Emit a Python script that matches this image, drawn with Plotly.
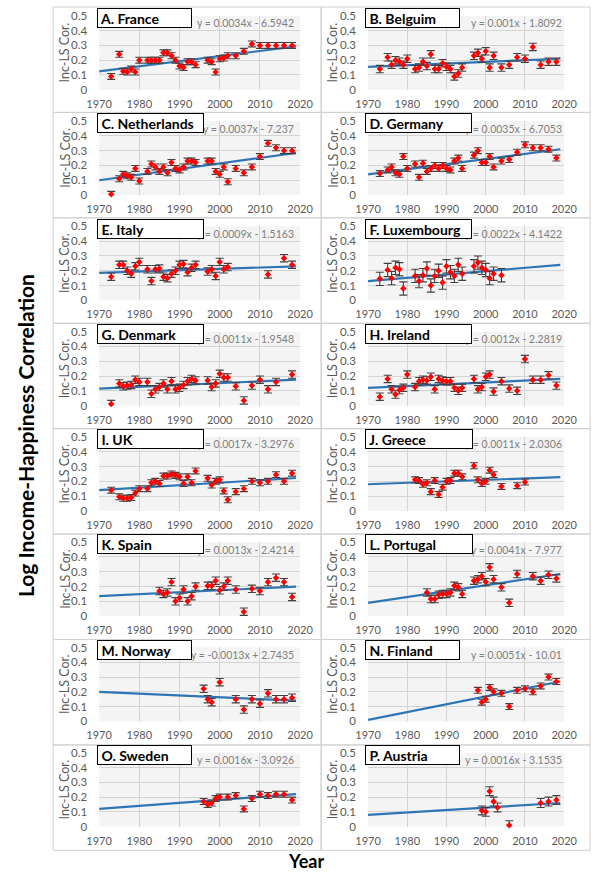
import plotly.graph_objects as go

# ---------------- data ----------------
titles = ["A. France", "B. Belguim", "C. Netherlands", "D. Germany", "E. Italy", "F. Luxembourg",
          "G. Denmark", "H. Ireland", "I. UK", "J. Greece", "K. Spain", "L. Portugal",
          "M. Norway", "N. Finland", "O. Sweden", "P. Austria"]
equations = ["y = 0.0034x - 6.5942", "y = 0.001x - 1.8092", "y = 0.0037x - 7.237", "y = 0.0035x - 6.7053",
             "y = 0.0009x - 1.5163", "y = 0.0022x - 4.1422", "y = 0.0011x - 1.9548", "y = 0.0012x - 2.2819",
             "y = 0.0017x - 3.2976", "y = 0.0011x - 2.0306", "y = 0.0013x - 2.4214", "y = 0.0041x - 7.977",
             "y = -0.0013x + 2.7435", "y = 0.0051x - 10.01", "y = 0.0016x - 3.0926", "y = 0.0016x - 3.1535"]

years_A = [1973, 1975, 1976, 1977, 1978, 1979, 1980, 1982, 1983, 1984, 1985, 1986, 1987, 1988, 1989, 1990, 1991,
           1992, 1993, 1994, 1997, 1998, 1999, 2000, 2001, 2002, 2004, 2006, 2008, 2010, 2012, 2014, 2016, 2018]
vals_A = [0.09, 0.24, 0.125, 0.12, 0.14, 0.12, 0.20, 0.20, 0.20, 0.20, 0.20, 0.25, 0.25, 0.23, 0.20, 0.16, 0.15,
          0.19, 0.19, 0.17, 0.20, 0.19, 0.12, 0.21, 0.215, 0.23, 0.23, 0.26, 0.31, 0.30, 0.30, 0.30, 0.30, 0.30]

years_B = [1973, 1975, 1976, 1977, 1978, 1979, 1980, 1982, 1983, 1984, 1985, 1986, 1987, 1988, 1989, 1990, 1991,
           1992, 1993, 1994, 1997, 1998, 1999, 2000, 2001, 2002, 2004, 2006, 2008, 2010, 2012, 2014, 2016, 2018]
vals_B = [0.14, 0.22, 0.17, 0.20, 0.19, 0.17, 0.21, 0.14, 0.15, 0.19, 0.16, 0.24, 0.14, 0.14, 0.18, 0.155, 0.14,
          0.09, 0.11, 0.15, 0.23, 0.25, 0.21, 0.26, 0.15, 0.23, 0.15, 0.17, 0.22, 0.21, 0.29, 0.17, 0.19, 0.19]

years_C = [1973, 1975, 1976, 1977, 1978, 1979, 1980, 1982, 1983, 1984, 1985, 1986, 1987, 1988, 1989, 1990, 1991,
           1992, 1993, 1994, 1997, 1998, 1999, 2000, 2001, 2002, 2004, 2006, 2008, 2010, 2012, 2014, 2016, 2018]
vals_C = [0.005, 0.11, 0.14, 0.13, 0.12, 0.18, 0.095, 0.16, 0.21, 0.19, 0.16, 0.19, 0.15, 0.22, 0.18, 0.17, 0.19,
          0.23, 0.23, 0.22, 0.23, 0.23, 0.16, 0.14, 0.19, 0.09, 0.18, 0.15, 0.19, 0.26, 0.35, 0.32, 0.30, 0.30]

years_D = [1973, 1975, 1976, 1977, 1978, 1979, 1980, 1982, 1983, 1984, 1985, 1986, 1987, 1988, 1989, 1990, 1991,
           1992, 1993, 1994, 1997, 1998, 1999, 2000, 2001, 2002, 2004, 2006, 2008, 2010, 2012, 2014, 2016, 2018]
vals_D = [0.145, 0.17, 0.19, 0.15, 0.14, 0.26, 0.18, 0.21, 0.12, 0.215, 0.16, 0.18, 0.20, 0.18, 0.20, 0.18, 0.17,
          0.23, 0.25, 0.18, 0.27, 0.30, 0.22, 0.22, 0.26, 0.19, 0.23, 0.24, 0.29, 0.34, 0.32, 0.32, 0.31, 0.25]

years_E = [1973, 1975, 1976, 1977, 1978, 1979, 1980, 1982, 1983, 1984, 1985, 1986, 1987, 1988, 1989, 1990, 1991,
           1992, 1993, 1994, 1997, 1998, 1999, 2000, 2001, 2002, 2012, 2016, 2018]
vals_E = [0.16, 0.24, 0.24, 0.20, 0.18, 0.23, 0.26, 0.21, 0.13, 0.21, 0.215, 0.16, 0.15, 0.18, 0.20, 0.24, 0.245,
          0.19, 0.22, 0.24, 0.195, 0.21, 0.165, 0.26, 0.21, 0.225, 0.175, 0.285, 0.24]

years_F = [1973, 1975, 1976, 1977, 1978, 1979, 1982, 1983, 1984, 1985, 1986, 1987, 1988, 1989, 1990, 1991, 1992,
           1993, 1994, 1997, 1998, 1999, 2000, 2001, 2002, 2004]
vals_F = [0.145, 0.205, 0.15, 0.22, 0.21, 0.08, 0.165, 0.13, 0.17, 0.215, 0.10, 0.165, 0.20, 0.12, 0.23, 0.19,
          0.165, 0.24, 0.18, 0.23, 0.255, 0.22, 0.205, 0.15, 0.18, 0.17]

years_G = [1973, 1975, 1976, 1977, 1978, 1979, 1980, 1982, 1983, 1984, 1985, 1986, 1987, 1988, 1989, 1990, 1991,
           1992, 1993, 1994, 1997, 1998, 1999, 2000, 2001, 2002, 2004, 2006, 2008, 2010, 2012, 2014, 2018]
vals_G = [0.01, 0.15, 0.13, 0.135, 0.14, 0.175, 0.16, 0.16, 0.08, 0.11, 0.125, 0.15, 0.11, 0.165, 0.11, 0.12, 0.14,
          0.165, 0.18, 0.17, 0.17, 0.125, 0.15, 0.215, 0.19, 0.19, 0.13, 0.035, 0.135, 0.175, 0.11, 0.16, 0.21]

years_H = [1973, 1975, 1976, 1977, 1978, 1979, 1980, 1982, 1983, 1984, 1985, 1986, 1987, 1988, 1989, 1990, 1991,
           1992, 1993, 1994, 1997, 1998, 1999, 2000, 2001, 2002, 2004, 2006, 2008, 2010, 2012, 2014, 2016, 2018]
vals_H = [0.06, 0.18, 0.11, 0.075, 0.105, 0.12, 0.21, 0.125, 0.165, 0.175, 0.17, 0.195, 0.11, 0.18, 0.17, 0.165,
          0.165, 0.12, 0.10, 0.12, 0.18, 0.11, 0.125, 0.195, 0.21, 0.095, 0.165, 0.115, 0.10, 0.315, 0.175, 0.175,
          0.205, 0.135]

years_I = [1973, 1975, 1976, 1977, 1978, 1979, 1980, 1982, 1983, 1984, 1985, 1986, 1987, 1988, 1989, 1990, 1991,
           1992, 1993, 1994, 1997, 1998, 1999, 2000, 2001, 2002, 2004, 2006, 2008, 2010, 2012, 2014, 2016, 2018]
vals_I = [0.14, 0.095, 0.085, 0.085, 0.09, 0.12, 0.15, 0.15, 0.19, 0.20, 0.185, 0.235, 0.235, 0.25, 0.24, 0.23,
          0.185, 0.23, 0.19, 0.27, 0.22, 0.175, 0.20, 0.21, 0.135, 0.075, 0.13, 0.15, 0.20, 0.19, 0.20, 0.245,
          0.20, 0.255]

years_J = [1982, 1983, 1984, 1985, 1986, 1987, 1988, 1989, 1990, 1991, 1992, 1993, 1994, 1997, 1998, 1999, 2000,
           2001, 2002, 2004, 2008, 2010]
vals_J = [0.21, 0.205, 0.18, 0.19, 0.13, 0.205, 0.11, 0.16, 0.20, 0.205, 0.255, 0.255, 0.23, 0.305, 0.21, 0.185,
          0.20, 0.275, 0.245, 0.165, 0.17, 0.195]

years_K = [1985, 1986, 1987, 1988, 1989, 1990, 1991, 1992, 1993, 1994, 1997, 1998, 1999, 2000, 2001, 2002, 2004,
           2006, 2008, 2010, 2012, 2014, 2016, 2018]
vals_K = [0.17, 0.15, 0.16, 0.23, 0.10, 0.125, 0.18, 0.10, 0.135, 0.20, 0.205, 0.205, 0.24, 0.175, 0.20, 0.24, 0.18,
          0.03, 0.185, 0.17, 0.23, 0.26, 0.23, 0.13]

years_L = [1985, 1986, 1987, 1988, 1989, 1990, 1991, 1992, 1993, 1994, 1997, 1998, 1999, 2000, 2001, 2002, 2004,
           2006, 2008, 2012, 2014, 2016, 2018]
vals_L = [0.16, 0.115, 0.115, 0.145, 0.15, 0.15, 0.16, 0.205, 0.195, 0.15, 0.24, 0.25, 0.27, 0.23, 0.33, 0.25,
          0.195, 0.09, 0.285, 0.27, 0.24, 0.28, 0.255]

years_M = [1996, 1997, 1998, 2000, 2004, 2006, 2008, 2010, 2012, 2014, 2016, 2018]
vals_M = [0.22, 0.15, 0.13, 0.265, 0.15, 0.08, 0.15, 0.12, 0.19, 0.15, 0.15, 0.16]

years_N = [1998, 1999, 2000, 2001, 2002, 2004, 2006, 2008, 2010, 2012, 2014, 2016, 2018]
vals_N = [0.21, 0.13, 0.15, 0.23, 0.20, 0.19, 0.10, 0.21, 0.22, 0.20, 0.24, 0.30, 0.27]

years_O = [1996, 1997, 1998, 1999, 2000, 2002, 2004, 2006, 2008, 2010, 2012, 2014, 2016, 2018]
vals_O = [0.17, 0.15, 0.16, 0.19, 0.20, 0.20, 0.21, 0.12, 0.19, 0.22, 0.21, 0.22, 0.22, 0.18]

years_P = [1999, 2000, 2001, 2002, 2003, 2006, 2014, 2016, 2018]
vals_P = [0.11, 0.10, 0.24, 0.17, 0.13, 0.01, 0.16, 0.17, 0.18]

err_size = [0.02, 0.025, 0.02, 0.02, 0.025, 0.045, 0.025, 0.025, 0.02, 0.02, 0.025, 0.025, 0.025, 0.02, 0.02, 0.03]

trend_x = [1970, 2019]
trend_1970 = [0.125, 0.155, 0.10, 0.14, 0.185, 0.13, 0.115, 0.12, 0.14, 0.18, 0.135, 0.09, 0.20, 0.01, 0.12, 0.08]
trend_2019 = [0.293, 0.21, 0.285, 0.31, 0.23, 0.24, 0.175, 0.18, 0.222, 0.228, 0.20, 0.285, 0.14, 0.27, 0.22, 0.16]

all_years = [years_A, years_B, years_C, years_D, years_E, years_F, years_G, years_H,
             years_I, years_J, years_K, years_L, years_M, years_N, years_O, years_P]
all_vals = [vals_A, vals_B, vals_C, vals_D, vals_E, vals_F, vals_G, vals_H,
            vals_I, vals_J, vals_K, vals_L, vals_M, vals_N, vals_O, vals_P]

x_ticks = [1970, 1980, 1990, 2000, 2010, 2020]
y_ticks = [0, 0.1, 0.2, 0.3, 0.4, 0.5]

# ---------------- layout ----------------
W, H = 604, 879
col_x = [(90, 300), (371, 576)]
row_top = [9 + 106.85 * r for r in range(8)]
plot_h = 75
box_w = [[95, 95], [107, 107], [107, 107], [107, 107], [107, 108], [107, 108], [95, 95], [95, 95]]

fig = go.Figure()
annotations = []
shapes = []
layout_axes = {}

TICK_COLOR = "#595959"
FONT = "Lato"

for r in range(8):
    for c in range(2):
        x0 = 42 if c == 0 else 322
        x1 = 322 if c == 0 else 603
        y0 = r * 107
        y1 = min(r * 107 + 107, 857)
        shapes.append(dict(type="rect", xref="paper", yref="paper",
                           x0=x0 / W, x1=x1 / W, y0=1 - y1 / H, y1=1 - y0 / H,
                           line=dict(color="#d0d0d0", width=1), layer="below"))

title_boxes = []
for i in range(16):
    r, c = divmod(i, 2)
    k = "" if i == 0 else str(i + 1)
    xa, ya = "x" + k, "y" + k
    xl, xr = col_x[c]
    top = row_top[r]
    layout_axes["xaxis" + k] = dict(
        domain=[xl / W, xr / W], anchor=ya, range=[1970, 2020], tickvals=x_ticks,
        showgrid=True, gridcolor="#d4d4d4", gridwidth=1, zeroline=False, showline=False,
        ticks="", tickfont=dict(family=FONT, size=11, color=TICK_COLOR), ticklabelstandoff=6)
    layout_axes["yaxis" + k] = dict(
        domain=[1 - (top + plot_h) / H, 1 - top / H], anchor=xa, range=[0, 0.5], tickvals=y_ticks,
        ticktext=["0", "0.1", "0.2", "0.3", "0.4", "0.5"],
        showgrid=True, gridcolor="#d4d4d4", gridwidth=1, zeroline=False, showline=False,
        ticks="", tickfont=dict(family=FONT, size=11.5, color=TICK_COLOR), ticklabelstandoff=11)

    fig.add_trace(go.Scatter(x=trend_x, y=[trend_1970[i], trend_2019[i]], mode="lines",
                             line=dict(color="#2e75b6", width=2.2), xaxis=xa, yaxis=ya,
                             showlegend=False, hoverinfo="skip"))
    fig.add_trace(go.Scatter(x=all_years[i], y=all_vals[i], mode="markers",
                             marker=dict(symbol="diamond", size=5, color="#ff0000"),
                             error_y=dict(type="constant", value=err_size[i], color="#404040",
                                          thickness=1.1, width=4),
                             xaxis=xa, yaxis=ya, showlegend=False, cliponaxis=False))

    annotations.append(dict(xref="paper", yref="paper",
                            x=(54 if c == 0 else 334) / W, y=1 - (top + plot_h / 2) / H,
                            text="Inc-LS Cor.", textangle=-90, showarrow=False,
                            font=dict(family=FONT, size=12.5, color=TICK_COLOR),
                            xanchor="center", yanchor="middle"))
    annotations.append(dict(xref="paper", yref="paper",
                            x=(296 if c == 0 else 576) / W, y=1 - (top + 7.5) / H,
                            text=equations[i], showarrow=False,
                            font=dict(family=FONT, size=10.5, color="#808080"),
                            xanchor="right", yanchor="middle"))
    bw = box_w[r][c]
    title_boxes.append(dict(xref="paper", yref="paper",
                            x=(88 if c == 0 else 368) / W, y=1 - (top - 8) / H,
                            xanchor="left", yanchor="top", text=" " + titles[i], showarrow=False,
                            width=bw - 2, height=18, align="left", valign="middle",
                            bgcolor="white", bordercolor="black", borderwidth=1, borderpad=0,
                            font=dict(family=FONT, size=14, color="black", weight="bold")))

annotations += title_boxes
annotations.append(dict(xref="paper", yref="paper", x=13 / W, y=1 - 435 / H,
                        text="<b>Log Income-Happiness Correlation</b>", textangle=-90, showarrow=False,
                        font=dict(family=FONT, size=21, color="black"), xanchor="center", yanchor="middle"))
annotations.append(dict(xref="paper", yref="paper", x=306 / W, y=1 - 867 / H,
                        text="<b>Year</b>", showarrow=False,
                        font=dict(family=FONT, size=18, color="black"), xanchor="center", yanchor="middle"))

fig.update_layout(width=W, height=H, margin=dict(l=0, r=0, t=0, b=0),
                  paper_bgcolor="white", plot_bgcolor="#f4f4f4",
                  annotations=annotations, shapes=shapes, **layout_axes)

fig.write_html("out.html", config={"displayModeBar": False},
               post_script="document.body.style.margin='0';document.body.style.overflow='hidden';")
